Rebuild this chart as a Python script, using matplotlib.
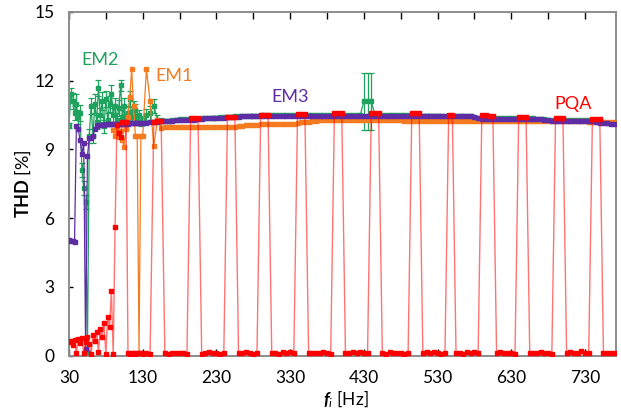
import numpy as np
import matplotlib
matplotlib.use("Agg")
import matplotlib.pyplot as plt
from matplotlib.ticker import FixedLocator

plt.rcParams['font.family'] = ['Lato', 'DejaVu Sans']
plt.rcParams['mathtext.fontset'] = 'custom'
plt.rcParams['mathtext.rm'] = 'Lato'
plt.rcParams['mathtext.bf'] = 'Lato:bold'
plt.rcParams['mathtext.it'] = 'Lato:italic'
plt.rcParams['mathtext.bfit'] = 'Lato:italic:bold'

# 频率网格：30-130 Hz 步长 2.5，之后 135-770 Hz 步长 5
freq_a = np.arange(30, 130.1, 2.5)
freq_b = np.arange(135, 770.1, 5)
freq = np.concatenate([freq_a, freq_b])

# ---- EM2 (green, with error bars) ----
em2_a = [10.05, 11.4, 11.1, 10.6, 11.0, 10.4, 10.6, 8.1, 7.3, 6.7,
         0.15, 9.6, 10.9, 9.6, 11.0, 10.2, 11.7, 10.5, 11.1, 10.0,
         11.2, 10.3, 11.0, 11.4, 10.5, 10.9, 10.3, 10.8, 11.8, 10.4,
         10.9, 10.2, 10.6, 11.2, 10.4, 10.8, 10.7, 10.3, 10.5, 10.2,
         10.3]
em2_b = [10.5, 10.6, 10.9, 10.3, 10.25, 10.24, 10.26, 10.27, 10.29, 10.31,
         10.31, 10.32, 10.32, 10.32, 10.34, 10.36, 10.37, 10.38, 10.39, 10.39,
         10.4, 10.4, 10.42, 10.42, 10.44, 10.44, 10.46, 10.47, 10.48, 10.48,
         10.48, 10.49, 10.49, 10.49, 10.5, 10.5, 10.5, 10.5, 10.5, 10.5,
         10.5, 10.5, 10.5, 10.5, 10.5, 10.5, 10.5, 10.5, 10.5, 10.5,
         10.5, 10.5, 10.5, 10.5, 10.5, 10.5, 10.5, 10.5, 10.5, 11.1,
         11.1, 11.1, 10.5, 10.49, 10.49, 10.49, 10.49, 10.49, 10.49, 10.49,
         10.49, 10.49, 10.48, 10.48, 10.48, 10.48, 10.48, 10.48, 10.48, 10.48,
         10.47, 10.47, 10.47, 10.47, 10.47, 10.47, 10.47, 10.47, 10.46, 10.42,
         10.37, 10.35, 10.35, 10.35, 10.35, 10.35, 10.35, 10.35, 10.35, 10.35,
         10.35, 10.35, 10.35, 10.35, 10.35, 10.35, 10.34, 10.34, 10.32, 10.3,
         10.28, 10.28, 10.28, 10.28, 10.28, 10.28, 10.28, 10.28, 10.28, 10.28,
         10.27, 10.26, 10.23, 10.2, 10.18, 10.17, 10.16, 10.15]
em2_err_a = [0.1, 0.3, 0.35, 0.3, 0.4, 0.3, 0.35, 0.3, 0.3, 0.3,
             0.05, 0.3, 0.35, 0.3, 0.4, 0.3, 0.35, 0.3, 0.4, 0.3,
             0.35, 0.3, 0.35, 0.4, 0.3, 0.35, 0.3, 0.35, 0.25, 0.3,
             0.35, 0.3, 0.3, 0.35, 0.3, 0.3, 0.3, 0.25, 0.2, 0.2,
             0.15]
em2_err_b = [0.25, 0.3, 0.3, 0.2, 0.1, 0.05, 0.05, 0.05, 0.05, 0.05,
             0.05, 0.05, 0.05, 0.05, 0.05, 0.05, 0.05, 0.05, 0.05, 0.05,
             0.05, 0.05, 0.05, 0.05, 0.05, 0.05, 0.05, 0.05, 0.05, 0.05,
             0.05, 0.05, 0.05, 0.05, 0.05, 0.05, 0.05, 0.05, 0.05, 0.05,
             0.05, 0.05, 0.05, 0.05, 0.05, 0.05, 0.05, 0.05, 0.05, 0.05,
             0.05, 0.05, 0.05, 0.05, 0.05, 0.05, 0.05, 0.05, 0.05, 1.25,
             1.25, 1.25, 0.05, 0.05, 0.05, 0.05, 0.05, 0.05, 0.05, 0.05,
             0.05, 0.05, 0.05, 0.05, 0.05, 0.05, 0.05, 0.05, 0.05, 0.05,
             0.05, 0.05, 0.05, 0.05, 0.05, 0.05, 0.05, 0.05, 0.05, 0.05,
             0.05, 0.05, 0.05, 0.05, 0.05, 0.05, 0.05, 0.05, 0.05, 0.05,
             0.05, 0.05, 0.05, 0.05, 0.05, 0.05, 0.05, 0.05, 0.05, 0.05,
             0.05, 0.05, 0.05, 0.05, 0.05, 0.05, 0.05, 0.05, 0.05, 0.05,
             0.05, 0.05, 0.05, 0.05, 0.05, 0.05, 0.05, 0.05]

# ---- EM1 (orange), starts at 90 Hz ----
em1_a = [9.85, 9.6, 9.9, 9.55, 9.8, 9.4, 9.1, 9.9, 10.4, 11.3,
         12.5, 10.9, 9.6, 9.6, 0.12, 9.6, 9.6]
em1_b = [12.5, 11.1, 9.15, 10.3, 9.95, 9.97, 9.97, 9.97, 9.97, 9.97,
         9.97, 9.97, 9.97, 9.97, 9.97, 9.97, 9.97, 9.97, 9.97, 9.97,
         9.97, 9.97, 9.97, 9.97, 9.97, 10.0, 10.02, 10.05, 10.05, 10.05,
         10.05, 10.1, 10.13, 10.13, 10.13, 10.13, 10.13, 10.13, 10.13, 10.13,
         10.13, 10.15, 10.18, 10.2, 10.2, 10.22, 10.25, 10.27, 10.27, 10.27,
         10.27, 10.27, 10.27, 10.27, 10.27, 10.27, 10.27, 10.27, 10.27, 10.27,
         10.27, 10.27, 10.27, 10.27, 10.27, 10.27, 10.27, 10.27, 10.27, 10.27,
         10.25, 10.25, 10.25, 10.25, 10.25, 10.25, 10.25, 10.25, 10.25, 10.25,
         10.24, 10.24, 10.24, 10.24, 10.24, 10.24, 10.24, 10.24, 10.24, 10.24,
         10.24, 10.24, 10.24, 10.24, 10.24, 10.24, 10.24, 10.24, 10.24, 10.24,
         10.22, 10.22, 10.22, 10.22, 10.22, 10.22, 10.22, 10.22, 10.22, 10.22,
         10.22, 10.22, 10.22, 10.22, 10.22, 10.22, 10.22, 10.22, 10.22, 10.22,
         10.2, 10.2, 10.2, 10.2, 10.2, 10.2, 10.2, 10.2]

# ---- EM3 (purple) ----
em3_a = [5.05, 5.0, 5.0, 4.95, 10.0, 9.9, 9.4, 8.8, 9.3, 0.3,
         8.7, 9.5, 9.5, 9.6, 9.9, 10.0, 10.05, 10.05, 10.08, 10.08,
         10.1, 10.1, 10.1, 10.1, 10.12, 10.12, 10.12, 10.12, 10.12, 10.13,
         10.13, 10.13, 10.13, 10.14, 10.14, 10.14, 10.14, 10.15, 10.15, 10.15,
         10.15]
em3_b = [10.16, 10.18, 10.2, 10.2, 10.22, 10.24, 10.25, 10.26, 10.28, 10.3,
         10.3, 10.3, 10.3, 10.3, 10.32, 10.34, 10.35, 10.36, 10.37, 10.37,
         10.38, 10.38, 10.4, 10.4, 10.42, 10.42, 10.44, 10.45, 10.46, 10.46,
         10.46, 10.47, 10.47, 10.47, 10.48, 10.48, 10.48, 10.48, 10.48, 10.48,
         10.48, 10.48, 10.48, 10.48, 10.48, 10.48, 10.48, 10.48, 10.48, 10.48,
         10.48, 10.48, 10.48, 10.48, 10.48, 10.48, 10.48, 10.47, 10.47, 10.47,
         10.47, 10.47, 10.47, 10.47, 10.47, 10.47, 10.47, 10.47, 10.47, 10.47,
         10.47, 10.47, 10.46, 10.46, 10.46, 10.46, 10.46, 10.46, 10.46, 10.46,
         10.45, 10.45, 10.45, 10.45, 10.45, 10.45, 10.45, 10.45, 10.44, 10.4,
         10.35, 10.33, 10.33, 10.33, 10.33, 10.33, 10.33, 10.33, 10.33, 10.33,
         10.33, 10.33, 10.33, 10.33, 10.33, 10.33, 10.32, 10.32, 10.3, 10.28,
         10.26, 10.26, 10.26, 10.26, 10.26, 10.26, 10.26, 10.26, 10.26, 10.26,
         10.25, 10.24, 10.2, 10.17, 10.15, 10.14, 10.13, 10.12]

# ---- PQA (red) ----
pqa_a = [0.6, 0.65, 0.45, 0.68, 0.1, 0.7, 0.55, 0.75, 0.1, 0.6,
         0.82, 0.5, 0.05, 0.9, 0.65, 1.04, 0.15, 1.14, 0.82, 1.4,
         0.05, 1.7, 1.24, 2.8, 0.05, 5.6, 10.05, 9.7, 9.55, 10.2,
         10.2, 10.2, 0.1, 0.08, 0.12, 0.1, 0.08, 0.1, 0.12, 0.1,
         0.08]
pqa_b = [0.1, 0.08, 10.2, 10.22, 10.22, 0.1, 0.08, 0.1, 0.12, 0.1,
         0.1, 0.08, 10.36, 10.36, 10.36, 0.08, 0.1, 0.14, 0.1, 0.1,
         0.08, 0.1, 10.43, 10.43, 10.43, 0.1, 0.1, 0.15, 0.1, 0.08,
         0.1, 10.5, 10.5, 10.5, 0.12, 0.1, 0.08, 0.14, 0.1, 0.15,
         0.1, 10.55, 10.55, 10.55, 0.1, 0.1, 0.13, 0.1, 0.16, 0.1,
         0.08, 10.58, 10.58, 10.58, 0.1, 0.12, 0.15, 0.1, 0.14, 0.1,
         0.1, 10.58, 10.58, 10.58, 0.1, 0.08, 0.14, 0.1, 0.12, 0.1,
         0.08, 0.1, 10.58, 10.58, 10.58, 0.1, 0.14, 0.1, 0.15, 0.1,
         0.08, 0.1, 10.5, 10.5, 0.1, 0.12, 0.08, 0.16, 0.1, 0.15,
         0.1, 10.5, 10.5, 10.48, 10.46, 0.1, 0.15, 0.1, 0.13, 0.1,
         0.08, 10.43, 10.43, 10.43, 0.1, 0.12, 0.1, 0.16, 0.1, 0.12,
         0.08, 10.38, 10.38, 10.38, 0.1, 0.14, 0.1, 0.12, 0.18, 0.1,
         0.1, 10.33, 10.33, 10.33, 0.1, 0.1, 0.12, 0.1]

em2 = np.array(em2_a + em2_b)
em2_err = np.array(em2_err_a + em2_err_b)
em3 = np.array(em3_a + em3_b)
pqa = np.array(pqa_a + pqa_b)
em1 = np.array(em1_a + em1_b)
freq_em1 = freq[freq >= 90]

c_em1 = '#F47B20'
c_em2 = '#1FA25E'
c_em3 = '#5E2CA5'
c_pqa = '#FF0000'

fig = plt.figure(figsize=(6.21, 4.11), dpi=100)
ax = fig.add_axes([69 / 621, 1 - 355.5 / 411, 547 / 621, 343.5 / 411])

ax.errorbar(freq, em2, yerr=em2_err, color=c_em2, marker='s', markersize=3.3,
            linewidth=0.9, elinewidth=0.9, capsize=2.2, capthick=0.9, zorder=2)
ax.plot(freq_em1, em1, color=c_em1, marker='s', markersize=3.3, linewidth=0.9, zorder=3)
ax.plot(freq, em3, color=c_em3, marker='s', markersize=3.3, linewidth=0.9, zorder=4)
ax.plot(freq, pqa, color=c_pqa, linewidth=1.0, alpha=0.55, zorder=5)
ax.plot(freq, pqa, color=c_pqa, marker='s', markersize=3.3, linestyle='none', zorder=6)

ax.set_xlim(30, 772)
ax.set_ylim(0, 15)
ax.set_xticks(np.arange(30, 731, 100))
ax.xaxis.set_minor_locator(FixedLocator(np.arange(80, 771, 100)))
ax.set_yticks([0, 3, 6, 9, 12, 15])

ax.tick_params(axis='x', which='major', direction='in', length=5, width=1,
               color='black', top=True, bottom=True, labelsize=12.5, pad=10.5)
ax.tick_params(axis='x', which='minor', direction='in', length=5, width=1,
               color='black', top=True, bottom=False)
ax.tick_params(axis='y', which='major', direction='in', length=3, width=1,
               color='black', left=True, right=False, labelsize=12.5, pad=10.5)

for sp in ax.spines.values():
    sp.set_color('#8C8C8C')
    sp.set_linewidth(1.4)

ax.set_ylabel(r'$\mathbf{THD}$ [%]', fontsize=13)
ax.yaxis.set_label_coords(-0.066, 0.5)
ax.set_xlabel(r'$\mathbfit{f}_{\mathit{i}}$ [Hz]', fontsize=12.5)
ax.xaxis.set_label_coords(0.506, -0.095)

ax.text(72, 12.9, 'EM2', color=c_em2, fontsize=13, ha='center', va='center')
ax.text(172, 12.2, 'EM1', color=c_em1, fontsize=13, ha='center', va='center')
ax.text(330, 11.3, 'EM3', color=c_em3, fontsize=13, ha='center', va='center')
ax.text(714, 11.0, 'PQA', color=c_pqa, fontsize=13, ha='center', va='center')

fig.savefig('out.png', dpi=100)
